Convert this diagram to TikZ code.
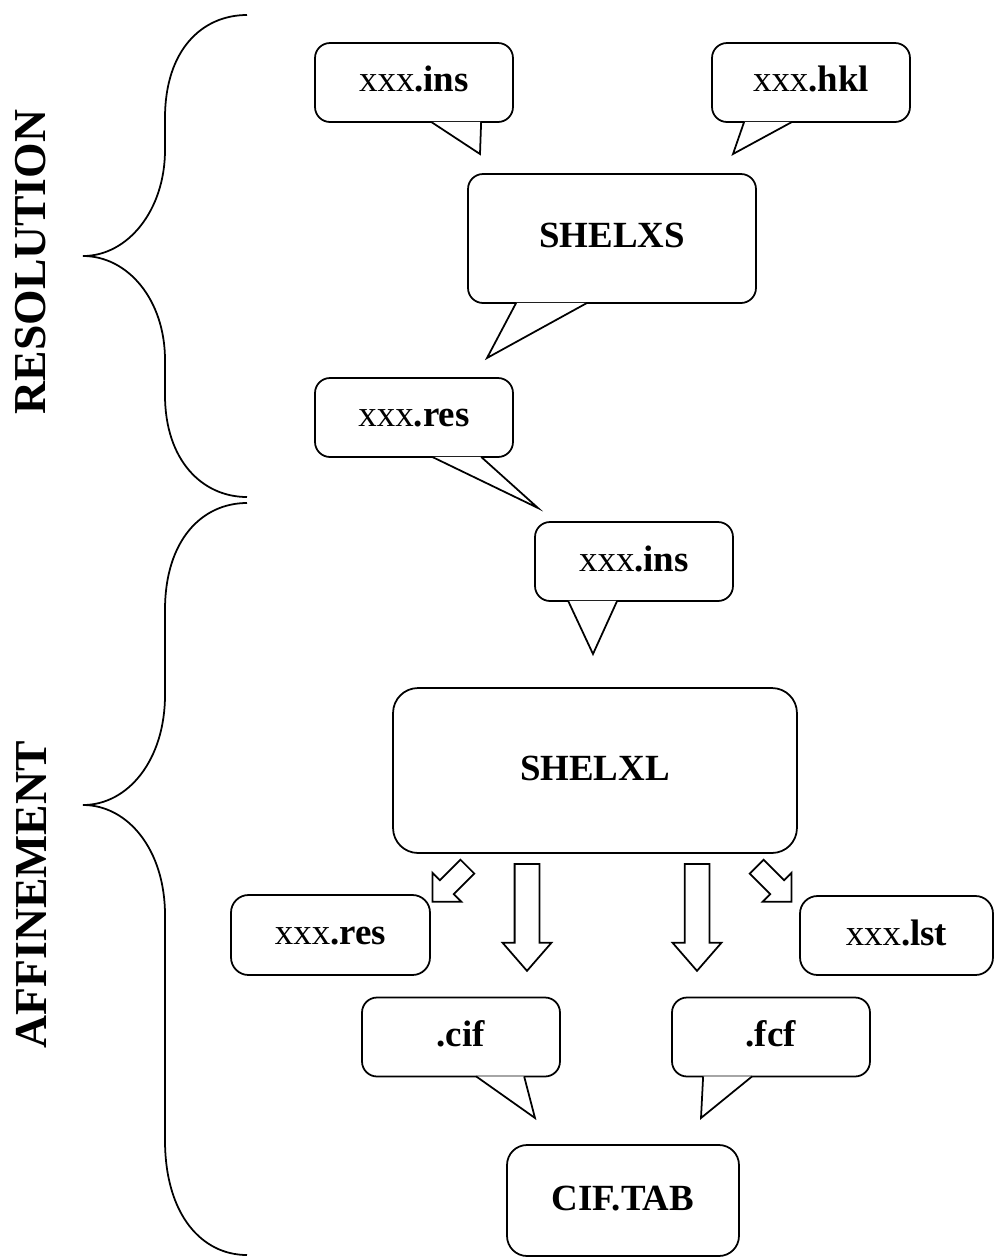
\documentclass[tikz,border=0pt]{standalone}
\usepackage{fontspec}
\setmainfont{Liberation Serif}
\usetikzlibrary{shapes.arrows,calc}

\newcommand{\bigfont}{\fontsize{21}{25}\selectfont}
\newcommand{\sidefont}{\fontsize{26}{31}\selectfont\bfseries}

\begin{document}
\begin{tikzpicture}[
    x=0.02cm, y=-0.02cm,
    line width=1pt,
    bubble/.style={draw, rounded corners=0.3cm, minimum width=3.96cm, minimum height=1.58cm, text height=14.5pt, text depth=3.7pt, font=\bigfont},
    box/.style={draw, rounded corners=0.35cm, text height=14.5pt, text depth=3.7pt, font=\bigfont},
    tail/.style={draw, fill=white, line join=miter},
    fatarrow/.style={single arrow, draw, anchor=tail, inner sep=0.23cm, single arrow head extend=0.24cm, single arrow tip angle=82, minimum height=2.14cm},
    slimarrow/.style={single arrow, draw, anchor=tail, inner sep=0.18cm, single arrow head extend=0.21cm, single arrow tip angle=90, minimum height=0.99cm}
]
    \useasboundingbox (0,0) rectangle (994,1259);

    % Braces and side titles
    \draw (247,15) .. controls (202,15) and (165,50) .. (165,118) -- (165,150)
        .. controls (165,210) and (128,256) .. (83,256)
        .. controls (128,256) and (165,300) .. (165,360) -- (165,395)
        .. controls (165,460) and (202,497) .. (247,497);
    \draw (247,503) .. controls (202,503) and (165,540) .. (165,610) -- (165,695)
        .. controls (165,760) and (128,805) .. (83,805)
        .. controls (128,805) and (165,850) .. (165,915) -- (165,1140)
        .. controls (165,1215) and (202,1255) .. (247,1255);
    \node[rotate=90, font=\sidefont] (resol) at (31,262) {RESOLUTION};
    \node[rotate=90, font=\sidefont] (affin) at (31,895) {AFFINEMENT};

    % Resolution
    \node[bubble] (ins) at (414,82.5) {xxx\textbf{.ins}};
    \node[bubble] (hkl) at (811,82.5) {xxx\textbf{.hkl}};
    \node[bubble, minimum width=5.76cm, minimum height=2.58cm] (shelxs) at (612,238.5) {\textbf{SHELXS}};
    \node[bubble] (resA) at (414,417.5) {xxx\textbf{.res}};
    \coordinate (insTip) at (480,154);
    \coordinate (hklTip) at (733,154);
    \coordinate (shelxsTip) at (487,358);
    \coordinate (resATip) at (538,508);
    \draw[tail] ($(ins.south west)+(117,-1)$) -- (insTip) -- ($(ins.south west)+(167,-1)$);
    \draw[tail] ($(hkl.south west)+(33,-1)$) -- (hklTip) -- ($(hkl.south west)+(81,-1)$);
    \draw[tail] ($(shelxs.south west)+(49,-1)$) -- (shelxsTip) -- ($(shelxs.south west)+(120,-1)$);
    \draw[tail] ($(resA.south west)+(118,-1)$) -- (resATip) -- ($(resA.south west)+(167,-1)$);

    % Affinement
    \node[bubble] (insB) at (634,561.5) {xxx\textbf{.ins}};
    \coordinate (insBTip) at (593,654);
    \draw[tail] ($(insB.south west)+(34,-1)$) -- (insBTip) -- ($(insB.south west)+(83,-1)$);
    \node[box, rounded corners=0.5cm, minimum width=8.08cm, minimum height=3.3cm] (shelxl) at (595,770.5) {\textbf{SHELXL}};

    \node[slimarrow, rotate=-135] (arRes) at (468,866) {};
    \node[fatarrow, rotate=-90] (arCif) at (527,863) {};
    \node[fatarrow, rotate=-90] (arFcf) at (697,863) {};
    \node[slimarrow, rotate=-45] (arLst) at (756,866) {};

    \node[box, minimum width=3.98cm, minimum height=1.6cm] (resB) at (330.5,935) {xxx\textbf{.res}};
    \node[box, minimum width=3.86cm, minimum height=1.58cm] (lst) at (896.5,935.5) {xxx\textbf{.lst}};

    \node[bubble] (cif) at (461,1037) {\textbf{.cif}};
    \node[bubble] (fcf) at (771,1037) {\textbf{.fcf}};
    \coordinate (cifTip) at (535,1118);
    \coordinate (fcfTip) at (701,1118);
    \draw[tail] ($(cif.south west)+(115,-1)$) -- (cifTip) -- ($(cif.south west)+(163,-1)$);
    \draw[tail] ($(fcf.south west)+(32,-1)$) -- (fcfTip) -- ($(fcf.south west)+(81,-1)$);

    \node[box, rounded corners=0.4cm, minimum width=4.64cm, minimum height=2.22cm] (ciftab) at (623,1200.5) {\textbf{CIF.TAB}};
\end{tikzpicture}
\end{document}
